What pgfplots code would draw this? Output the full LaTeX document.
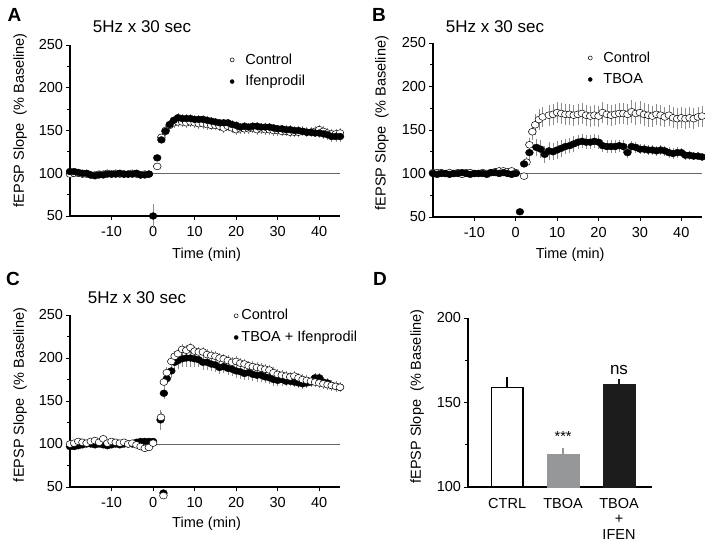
\documentclass[border=0pt]{standalone}
\usepackage{pgfplots}
\pgfplotsset{compat=1.18}
\usepackage{fontspec}
\setmainfont{Liberation Sans}
\definecolor{barg}{RGB}{150,151,153}
\definecolor{barb}{RGB}{28,28,28}
\definecolor{errg}{RGB}{140,140,140}

\pgfplotstableread{
x y e
-20 99 2
-19 100 2
-18 100 2
-17 99 2
-16 99 2
-15 98 2
-14 98 2
-13 99 2
-12 99 2
-11 100 2
-10 99 2
-9 100 2
-8 99 2
-7 99 2
-6 99 2
-5 100 2
-4 99 2
-3 98 2
-2 99 2
-1 99 2
1 108 3
2 142 4
3 150 5
4 156 6
5 159 6
6 160 6
7 160 6
8 159 6
9 160 6
10 159 6
11 158 6
12 158 6
13 157 6
14 156 6
15 156 6
16 155 6
17 153 6
18 155 6
19 153 6
20 151 6
21 152 6
22 152 6
23 152 6
24 153 6
25 151 6
26 152 6
27 151 6
28 151 6
29 150 6
30 150 6
31 149 6
32 149 6
33 148 6
34 148 6
35 148 6
36 149 6
37 148 6
38 148 6
39 149 6
40 151 6
41 149 6
42 147 6
43 146 6
44 146 6
45 147 6
}\Actrl

\pgfplotstableread{
x y e
-20 102 2
-19 102 2
-18 101 2
-17 100 2
-16 100 2
-15 98 2
-14 97 2
-13 98 2
-12 98 2
-11 99 2
-10 99 2
-9 99 2
-8 100 2
-7 99 2
-6 99 2
-5 99 2
-4 100 2
-3 98 2
-2 98 2
-1 99 2
0 50 14
1 118 3
2 139 4
3 149 5
4 157 5
5 162 5
6 165 5
7 164 5
8 164 5
9 164 5
10 163 5
11 163 5
12 163 5
13 162 5
14 161 5
15 160 5
16 159 5
17 159 5
18 159 5
19 157 5
20 156 5
21 154 5
22 155 5
23 154 5
24 155 5
25 155 5
26 154 5
27 154 5
28 154 5
29 153 5
30 152 5
31 152 5
32 151 5
33 151 5
34 150 5
35 150 5
36 149 5
37 148 5
38 148 5
39 147 5
40 147 6
41 146 6
42 145 6
43 143 6
44 143 6
45 143 6
}\Aifen

\pgfplotstableread{
x y e
-20 101 2
-19 101 2
-18 101 2
-17 100 2
-16 101 2
-15 100 2
-14 101 2
-13 99 2
-12 101 2
-11 101 2
-10 100 2
-9 100 2
-8 101 2
-7 100 2
-6 101 2
-5 102 2
-4 103 2
-3 103 2
-2 102 2
-1 103 2
0 101 2
2 97 3
2.6 113 6
3.3 133 8
4 148 10
4.7 156 12
5.6 162 12
6.5 165 12
8 167 12
9 168 12
10 170 12
11 169 12
12 168 12
13 168 12
14 167 12
15 168 12
16 169 12
17 167 12
18 166 12
19 167 12
20 166 12
21 170 12
22 168 12
23 167 12
24 168 12
25 169 12
26 169 12
27 168 12
28 171 13
29 169 13
30 170 13
31 168 13
32 167 13
33 166 12
34 168 12
35 167 12
36 165 12
37 167 12
38 164 12
39 163 12
40 164 12
41 163 12
42 164 12
43 163 12
44 165 12
45 166 12
}\Bctrl

\pgfplotstableread{
x y e
-20 100 2
-19 99 2
-18 100 2
-17 100 2
-16 99 2
-15 100 2
-14 100 2
-13 101 2
-12 100 2
-11 99 2
-10 100 2
-9 100 2
-8 100 2
-7 99 2
-6 101 2
-5 101 2
-4 100 2
-3 101 2
-2 100 2
-1 99 2
0 100 2
1 56 2
2 111 4
3.3 124 8
5 130 10
6 128 10
7 122 10
8 126 10
9 125 10
10 127 10
11 129 10
12 131 9
13 132 9
14 134 9
15 136 8
16 137 8
17 136 8
18 136 8
19 137 8
20 136 8
21 132 7
22 131 7
23 131 7
24 131 7
25 132 7
26 131 7
27 124 6
28 131 6
29 130 6
30 128 6
31 128 6
32 127 6
33 127 6
34 126 6
35 127 6
36 126 6
37 124 6
38 123 6
39 124 6
40 124 5
41 121 5
42 121 5
43 120 5
44 120 5
45 119 5
}\Btboa

\pgfplotstableread{
x y e
-20 100 2
-19 101 2
-18 103 2
-17 102 2
-16 101 2
-15 103 2
-14 104 2
-13 102 2
-12 106 2
-11 101 2
-10 103 2
-9 102 2
-8 101 2
-7 102 2
-6 100 2
-5 101 2
-4 99 2
-3 97 2
-2 95 2
-1 96 2
0 101 2
1.9 131 6
2.5 40 0
2.6 172 6
3.3 183 6
4.4 196 6
5.2 202 6
6 205 6
7 210 6
8 209 6
9 212 6
10 208 6
11 207 6
12 207 6
13 204 6
14 203 6
15 202 6
16 200 6
17 199 6
18 197 6
19 195 6
20 196 6
21 194 6
22 193 6
23 191 6
24 190 6
25 189 6
26 188 6
27 187 6
28 186 6
29 183 6
30 181 6
31 180 6
32 179 6
33 178 6
34 179 6
35 177 6
36 175 6
37 174 6
38 173 6
39 172 6
40 171 6
41 170 6
42 169 6
43 168 6
44 167 6
45 166 6
}\Cctrl

\pgfplotstableread{
x y e
-20 97 2
-19 97 2
-18 98 2
-17 99 2
-16 100 2
-15 100 2
-14 99 2
-13 100 2
-12 99 2
-11 98 2
-10 99 2
-9 100 2
-8 99 2
-7 100 2
-6 100 2
-5 100 2
-4 102 2
-3 103 2
-2 103 2
-1 103 2
0 103 2
1.8 128 12
2.5 43 0
2.6 159 7
3.3 176 6
4.4 185 8
5.2 195 10
6 197 10
7 199 10
8 200 10
9 200 10
10 199 10
11 198 9
12 195 9
13 195 9
14 193 8
15 192 8
16 189 8
17 190 8
18 188 8
19 187 8
20 185 8
21 184 8
22 182 8
23 183 8
24 181 8
25 180 8
26 180 8
27 178 7
28 177 7
29 175 7
30 174 7
31 175 7
32 173 6
33 173 6
34 172 6
35 171 6
36 170 6
37 171 6
38 172 6
39 177 6
40 177 6
41 172 6
42 171 6
43 168 6
44 167 6
45 166 6
}\Ctboa

\begin{document}
\fontsize{14.5}{17}\selectfont
\begin{tikzpicture}[x=1pt,y=1pt]
\path[use as bounding box] (0pt,0pt) rectangle (705pt,550pt);
\pgfplotsset{
  panel/.style={
    scale only axis, axis lines=left, axis line style={-, line width=1.2pt},
    tick align=outside, major tick length=4pt, minor tick length=3pt,
    tick style={line width=0.8pt, black},
    xmin=-20, xmax=45, ymin=50, ymax=250,
    xtick={-10,0,...,40}, ytick={50,100,...,250}, minor ytick={75,125,...,225},
    clip=false,
    /pgf/number format/assume math mode=true,
    ticklabel style={font=\fontsize{14.5}{17}\selectfont},
    xticklabel style={yshift=-1pt},
    yticklabel style={xshift=2pt},
    label style={font=\fontsize{14.5}{17}\selectfont},
    xlabel={Time (min)}, ylabel={fEPSP Slope\ \ (\% Baseline)},
    legend style={draw=none, fill=none, font=\fontsize{14.5}{17}\selectfont,
      row sep=5pt, inner sep=0pt, cells={anchor=west}},
    legend image code/.code={\path (0pt,0pt) (14pt,0pt); \draw[##1] plot coordinates {(3pt,0pt)};},
  },
  ebars/.style={error bars/y dir=both, error bars/y explicit, error bars/error mark=none,
    error bars/error bar style={errg, line width=0.6pt}},
  opn/.style={only marks, mark=*, mark size=3.4pt, mark options={fill=white, draw=black, line width=0.5pt, xscale=1.15}, ebars},
  fld/.style={only marks, mark=*, mark size=3.4pt, mark options={fill=black, draw=black, xscale=1.15}, ebars},
  lopn/.style={only marks, mark=*, mark size=2pt, mark options={fill=white, draw=black, line width=0.5pt}},
  lfld/.style={only marks, mark=*, mark size=2pt, mark options={fill=black, draw=black}},
}

% Panel A
\begin{axis}[panel, at={(70pt,334pt)}, anchor=south west, width=270pt, height=171pt,
  xlabel style={at={(axis description cs:0.506,-0.225)}, anchor=center},
  ylabel style={at={(axis description cs:-0.185,0.56)}, anchor=center},
  legend style={at={(axis description cs:0.588,0.963)}, anchor=north west}]
\addlegendimage{lopn}\addlegendentry{Control}
\addlegendimage{lfld}\addlegendentry{Ifenprodil}
\addplot[gray!80!black, line width=0.6pt, forget plot] coordinates {(0,100) (45,100)};
\addplot[forget plot, opn] table[x=x, y=y, y error=e] {\Actrl};
\addplot[forget plot, fld] table[x=x, y=y, y error=e] {\Aifen};
\end{axis}

% Panel B
\begin{axis}[panel, at={(433pt,333pt)}, anchor=south west, width=269pt, height=174pt,
  xlabel style={at={(axis description cs:0.51,-0.218)}, anchor=center},
  ylabel style={at={(axis description cs:-0.19,0.54)}, anchor=center},
  legend style={at={(axis description cs:0.572,0.963)}, anchor=north west}]
\addlegendimage{lopn}\addlegendentry{Control}
\addlegendimage{lfld}\addlegendentry{TBOA}
\addplot[gray!80!black, line width=0.6pt, forget plot] coordinates {(0,100) (45,100)};
\addplot[forget plot, opn] table[x=x, y=y, y error=e] {\Bctrl};
\addplot[forget plot, fld] table[x=x, y=y, y error=e] {\Btboa};
\end{axis}

% Panel C
\begin{axis}[panel, at={(70pt,63pt)}, anchor=south west, width=270pt, height=172pt,
  xlabel style={at={(axis description cs:0.506,-0.215)}, anchor=center},
  ylabel style={at={(axis description cs:-0.185,0.535)}, anchor=center},
  legend image code/.code={\path (0pt,0pt) (6pt,0pt); \draw[#1] plot coordinates {(3pt,0pt)};},
  legend style={at={(axis description cs:0.603,1.045)}, anchor=north west}]
\addlegendimage{lopn}\addlegendentry{Control}
\addlegendimage{lfld}\addlegendentry{TBOA + Ifenprodil}
\addplot[gray!80!black, line width=0.6pt, forget plot] coordinates {(0,100) (45,100)};
\addplot[forget plot, fld] table[x=x, y=y, y error=e] {\Ctboa};
\addplot[forget plot, opn] table[x=x, y=y, y error=e] {\Cctrl};
\end{axis}

% Panel D
\begin{axis}[scale only axis, at={(468pt,63pt)}, anchor=south west, width=184pt, height=169pt,
  axis lines=left, axis line style={-, line width=1.2pt},
  tick align=outside, major tick length=4pt, minor tick length=3pt,
  tick style={line width=0.8pt, black},
  xmin=-0.7, xmax=2.59, ymin=100, ymax=200,
  ytick={100,150,200}, minor ytick={125,175},
  xtick={0,1,2}, xticklabels={CTRL, TBOA, {TBOA\\+\\IFEN}},
  x tick style={draw=none},
  xticklabel style={align=center, font=\fontsize{14.5}{15.5}\selectfont, yshift=-2pt},
  yticklabel style={font=\fontsize{14.5}{17}\selectfont, xshift=2pt},
  /pgf/number format/assume math mode=true,
  ylabel={fEPSP Slope\ \ (\% Baseline)},
  label style={font=\fontsize{14.5}{17}\selectfont},
  ylabel style={at={(axis description cs:-0.277,0.535)}, anchor=center},
  clip mode=individual,
  ybar, bar width=0.57]
\addplot[bar shift=0pt, fill=white, draw=black, line width=1.4pt,
  error bars/.cd, y dir=plus, y explicit, error mark=none, error bar style={black, line width=1.4pt}]
  coordinates {(0,158.8) +- (0,6)};
\addplot[bar shift=0pt, fill=barg, draw=barg, line width=0.5pt,
  error bars/.cd, y dir=plus, y explicit, error mark=none, error bar style={barg, line width=1.4pt}]
  coordinates {(1,119.3) +- (0,3.6)};
\addplot[bar shift=0pt, fill=barb, draw=barb, line width=0.5pt,
  error bars/.cd, y dir=plus, y explicit, error mark=none, error bar style={barb, line width=1.4pt}]
  coordinates {(2,160.8) +- (0,3)};
\node[font=\fontsize{14.5}{17}\selectfont] at (axis cs:1,130) {***};
\node[font=\fontsize{17}{20}\selectfont] at (axis cs:2,169.5) {ns};
\end{axis}

% titles and panel letters
\node[font=\fontsize{17}{20}\selectfont] at (142pt,523pt) {5Hz x 30 sec};
\node[font=\fontsize{17}{20}\selectfont] at (495pt,523pt) {5Hz x 30 sec};
\node[font=\fontsize{17}{20}\selectfont] at (137pt,252pt) {5Hz x 30 sec};
\node[font=\bfseries\fontsize{19}{22}\selectfont] at (14.5pt,535pt) {A};
\node[font=\bfseries\fontsize{19}{22}\selectfont] at (379pt,535pt) {B};
\node[font=\bfseries\fontsize{19}{22}\selectfont] at (13pt,271pt) {C};
\node[font=\bfseries\fontsize{19}{22}\selectfont] at (380pt,271pt) {D};
\end{tikzpicture}
\end{document}
